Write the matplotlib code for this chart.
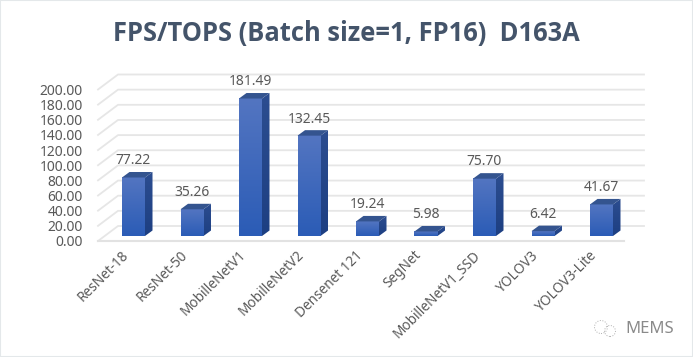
import matplotlib
matplotlib.use('Agg')
import matplotlib.pyplot as plt
import matplotlib.transforms as mtrans
import numpy as np
from matplotlib.patches import Polygon, Circle, Rectangle

names = ['ResNet-18', 'ResNet-50', 'MobilleNetV1', 'MobilleNetV2', 'Densenet 121',
         'SegNet', 'MobilleNetV1_SSD', 'YOLOV3', 'YOLOV3-Lite']
fps = [77.22, 35.26, 181.49, 132.45, 19.24, 5.98, 75.70, 6.42, 41.67]
ticks = [0, 20, 40, 60, 80, 100, 120, 140, 160, 180, 200]

W, H = 693, 357
TEXT = '#595959'
plt.rcParams['font.family'] = ['Noto Sans', 'DejaVu Sans']

fig = plt.figure(figsize=(W / 100, H / 100), dpi=100)
fig.patch.set_facecolor('white')

# axes box: floor front edge at y=241, 200 line at y=89.5
ax = fig.add_axes([98 / W, 1 - 241 / H, (624 - 98) / W, (241 - 89.5) / H])
ax.patch.set_alpha(0)
xmin, xmax = (98 - 133.5) / 58.5, (624 - 133.5) / 58.5
ax.set_xlim(xmin, xmax)
ax.set_ylim(0, 200)
for s in ax.spines.values():
    s.set_visible(False)

px_x = 1 / 58.5
px_y = 200 / 151.5

# walls and floor
wall_dx, wall_dy = 20 * px_x, 15 * px_y
for t in ticks:
    ax.plot([xmin, xmin + wall_dx, xmax + wall_dx], [t, t + wall_dy, t + wall_dy],
            color='#e6e6e6', lw=1.3, clip_on=False, zorder=1)
ax.plot([xmin, xmax], [0, 0], color='#e2e2e2', lw=1.5, clip_on=False, zorder=1)

# bars, a fake 3d box
half = 11.5 * px_x
dx, dy = 7.5 * px_x, 5.5 * px_y
base = 5 * px_y
grad = np.linspace(0, 1, 64).reshape(-1, 1)
cmap = matplotlib.colors.LinearSegmentedColormap.from_list('front', ['#2b5cb6', '#5375c1'])
side_cmap = matplotlib.colors.LinearSegmentedColormap.from_list('side', ['#1d3f82', '#2c4d90'])
for i, v in enumerate(fps):
    top = base + v
    ax.imshow(grad, extent=(i - half, i + half, base, top), origin='lower', cmap=cmap,
              aspect='auto', zorder=3)
    xs = [i + half, i + half + dx, i + half + dx, i + half]
    ys = [base, base + dy, top + dy, top]
    side = ax.imshow(grad, extent=(i + half, i + half + dx, base, top + dy), origin='lower',
                     cmap=side_cmap, aspect='auto', zorder=3)
    side.set_clip_path(Polygon(list(zip(xs, ys)), transform=ax.transData))
    ax.add_patch(Polygon([(i - half, top), (i + half, top), (i + half + dx, top + dy),
                          (i - half + dx, top + dy)], facecolor='#34548f', edgecolor='none', zorder=3))
    ax.annotate(f'{v:.2f}', (i, top), xytext=(0, 12), textcoords='offset points', ha='center',
                va='center', fontsize=10, color=TEXT, zorder=4, annotation_clip=False)
ax.set_xlim(xmin, xmax)
ax.set_ylim(0, 200)

ax.set_yticks(ticks)
ax.set_yticklabels([f'{t:.2f}' for t in ticks], fontsize=10, color=TEXT)
ax.set_xticks(range(len(names)))
ax.set_xticklabels(names, fontsize=9.8, color=TEXT, rotation=45, ha='right', rotation_mode='anchor')
ax.tick_params(axis='both', length=0)
ax.tick_params(axis='y', pad=11)
ax.tick_params(axis='x', pad=5)
shift = mtrans.ScaledTranslation(-12 / 100, 0, fig.dpi_scale_trans)
for lab in ax.get_xticklabels():
    lab.set_transform(lab.get_transform() + shift)

fig.text(346 / W, 1 - 33 / H, 'FPS/TOPS (Batch size=1, FP16)  D163A', ha='center', va='center',
         fontsize=18.4, fontweight='bold', color='#44546a', family=['Open Sans', 'DejaVu Sans'])

# watermark
fig.text(625 / W, 1 - 329 / H, 'MEMS', ha='left', va='center', fontsize=12, color='#8a8a8a')
for cx, cy, r in [(601, 327, 6.5), (610, 331, 5.5)]:
    fig.add_artist(Circle((cx, H - cy), r, transform=None, fill=False, ec='#b0b0b0',
                          lw=0.7, ls=':'))

# light frame at the picture edge
fig.add_artist(Rectangle((0, 0), 1, 1, transform=fig.transFigure, fill=False, ec='#e4e8ea', lw=1.5))

fig.savefig('out.png', dpi=100)
